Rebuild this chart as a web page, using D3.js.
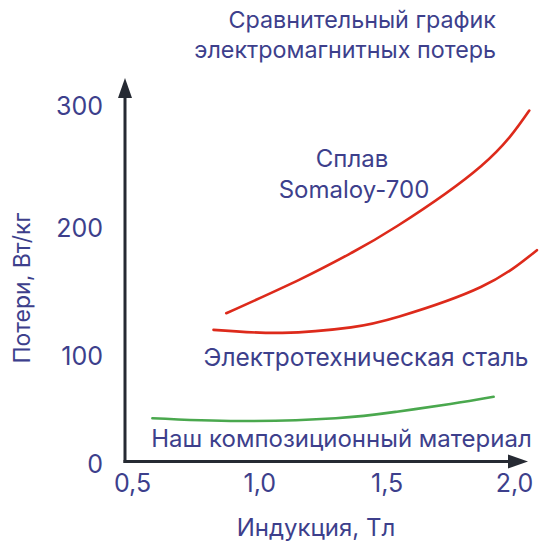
<!DOCTYPE html>
<html>
<head>
<meta charset="utf-8">
<script src="https://cdn.jsdelivr.net/npm/d3@7"></script>
<style>
  html, body { margin: 0; padding: 0; background: #ffffff; }
  svg { display: block; }
  text { font-family: Inter, "Open Sans", sans-serif; fill: #3d3f8c; }
</style>
</head>
<body>
<svg id="chart" width="541" height="547"></svg>
<script>
// ---- data ----
const titleLines = ["Сравнительный график", "электромагнитных потерь"];
const xLabel = "Индукция, Тл";
const yLabel = "Потери, Вт/кг";
const xTicks = [0.5, 1.0, 1.5, 2.0];
const yTicks = [0, 100, 200, 300];

const somaloyX = [0.87, 1.16, 1.36, 1.54, 1.87, 2.06];
const somaloyY = [133, 159.5, 180, 201, 250, 295.5];

const steelX = [0.82, 1.09, 1.36, 1.55, 1.87, 2.09];
const steelY = [120, 117.7, 122, 130.5, 153.5, 182.3];

const compositeX = [0.58, 0.92, 1.30, 1.54, 1.75, 1.92];
const compositeY = [40.8, 38.2, 40.8, 47, 54.2, 61];

const seriesNames = ["Сплав", "Somaloy-700", "Электротехническая сталь", "Наш композиционный материал"];

// ---- drawing ----
const svg = d3.select("#chart");
const x = d3.scaleLinear().domain([0.5, 2.0]).range([132, 514]);
// the printed axis is hand-drawn: tick spacing is uneven, so a piecewise scale is used
const y = d3.scaleLinear().domain([0, 100, 200, 300]).range([461.5, 355.5, 227.5, 105]);
const locale = d3.formatLocale({decimal: ",", thousands: " ", grouping: [3], currency: ["", ""]});
const fmtX = locale.format(".1f");

const textColor = "#3d3f8c";
const axisColor = "#262a33";
const red = "#dd2a1b";
const green = "#4aa84e";

// title
svg.append("g").selectAll("text").data(titleLines).join("text")
  .attr("x", 496).attr("y", (d, i) => 28 + i * 30)
  .attr("text-anchor", "end")
  .attr("font-size", 23.3)
  .text(d => d);

// axes lines with arrows
const axisG = svg.append("g");
const x0 = 125, yBase = 461.5;
axisG.append("line").attr("x1", x0 - 1.5).attr("x2", 512).attr("y1", yBase).attr("y2", yBase)
  .attr("stroke", axisColor).attr("stroke-width", 3);
axisG.append("line").attr("x1", x0).attr("x2", x0).attr("y1", yBase + 1.5).attr("y2", 92)
  .attr("stroke", axisColor).attr("stroke-width", 3);
axisG.append("path").attr("d", `M528,${yBase} L508,${yBase - 7} L508,${yBase + 7} Z`).attr("fill", axisColor);
axisG.append("path").attr("d", `M${x0},78 L${x0 - 7},98 L${x0 + 7},98 Z`).attr("fill", axisColor);

// tick labels via d3 axes
const gx = svg.append("g").attr("transform", `translate(0,${yBase})`)
  .call(d3.axisBottom(x).tickValues(xTicks).tickSize(0).tickPadding(13).tickFormat(d => fmtX(d)));
gx.select(".domain").remove();
gx.selectAll("text").attr("font-size", 25).attr("fill", textColor).attr("font-family", "Inter, sans-serif");

const gy = svg.append("g").attr("transform", `translate(103,0)`)
  .call(d3.axisLeft(y).tickValues(yTicks).tickSize(0).tickPadding(0));
gy.select(".domain").remove();
gy.selectAll("text").attr("font-size", 25).attr("fill", textColor).attr("font-family", "Inter, sans-serif")
  .attr("dy", "0.36em");
gy.selectAll(".tick").filter(d => d === 0).select("text").attr("dy", "0.44em");

// axis titles
svg.append("text").attr("x", 316).attr("y", 536).attr("text-anchor", "middle")
  .attr("font-size", 24).text(xLabel);
svg.append("text").attr("transform", "translate(30,288) rotate(-90)").attr("text-anchor", "middle")
  .attr("font-size", 23).text(yLabel);

// curves
const line = d3.line().x(d => x(d[0])).y(d => y(d[1])).curve(d3.curveNatural);
const series = [
  {xs: somaloyX, ys: somaloyY, color: red},
  {xs: steelX, ys: steelY, color: red},
  {xs: compositeX, ys: compositeY, color: green}
];
svg.append("g").selectAll("path").data(series).join("path")
  .attr("d", s => line(s.xs.map((v, i) => [v, s.ys[i]])))
  .attr("fill", "none").attr("stroke", s => s.color).attr("stroke-width", 2.6)
  .attr("stroke-linecap", "round");

// series labels
svg.append("text").attr("x", 352).attr("y", 167).attr("text-anchor", "middle").attr("font-size", 24).text(seriesNames[0]);
svg.append("text").attr("x", 354).attr("y", 198).attr("text-anchor", "middle").attr("font-size", 24).text(seriesNames[1]);
svg.append("text").attr("x", 366).attr("y", 366).attr("text-anchor", "middle").attr("font-size", 24.5).text(seriesNames[2]);
svg.append("text").attr("x", 341.5).attr("y", 447).attr("text-anchor", "middle").attr("font-size", 24).text(seriesNames[3]);
</script>
</body>
</html>
